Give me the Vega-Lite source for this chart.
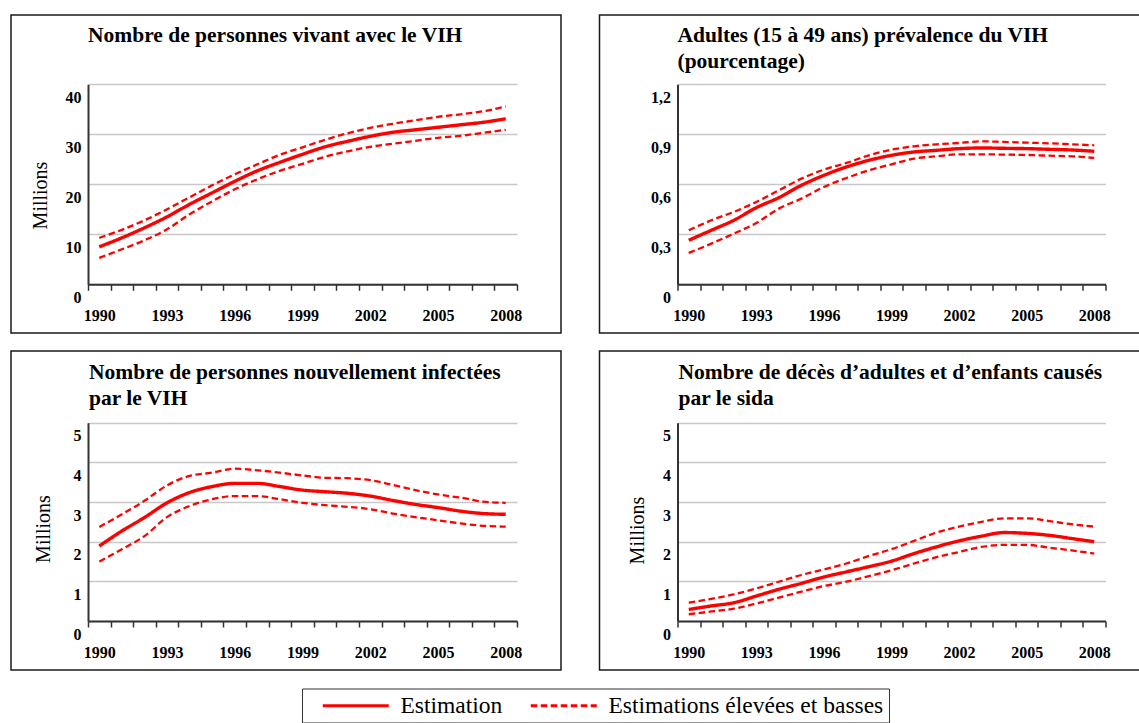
{
  "$schema": "https://vega.github.io/schema/vega-lite/v6.json",
  "padding": {"left": 10, "top": 14, "right": 0, "bottom": 0},
  "background": "white",
  "datasets": {
    "vivant": [
      {"annee":1990,"serie":"Estimation","type":"Estimation","valeur":7.5},
      {"annee":1991,"serie":"Estimation","type":"Estimation","valeur":9.3},
      {"annee":1992,"serie":"Estimation","type":"Estimation","valeur":11.3},
      {"annee":1993,"serie":"Estimation","type":"Estimation","valeur":13.5},
      {"annee":1994,"serie":"Estimation","type":"Estimation","valeur":16.0},
      {"annee":1995,"serie":"Estimation","type":"Estimation","valeur":18.3},
      {"annee":1996,"serie":"Estimation","type":"Estimation","valeur":20.6},
      {"annee":1997,"serie":"Estimation","type":"Estimation","valeur":22.7},
      {"annee":1998,"serie":"Estimation","type":"Estimation","valeur":24.4},
      {"annee":1999,"serie":"Estimation","type":"Estimation","valeur":26.0},
      {"annee":2000,"serie":"Estimation","type":"Estimation","valeur":27.5},
      {"annee":2001,"serie":"Estimation","type":"Estimation","valeur":28.6},
      {"annee":2002,"serie":"Estimation","type":"Estimation","valeur":29.6},
      {"annee":2003,"serie":"Estimation","type":"Estimation","valeur":30.4},
      {"annee":2004,"serie":"Estimation","type":"Estimation","valeur":30.9},
      {"annee":2005,"serie":"Estimation","type":"Estimation","valeur":31.4},
      {"annee":2006,"serie":"Estimation","type":"Estimation","valeur":31.9},
      {"annee":2007,"serie":"Estimation","type":"Estimation","valeur":32.4},
      {"annee":2008,"serie":"Estimation","type":"Estimation","valeur":33.1},
      {"annee":1990,"serie":"Haute","type":"Estimations élevées et basses","valeur":9.3},
      {"annee":1991,"serie":"Haute","type":"Estimations élevées et basses","valeur":10.9},
      {"annee":1992,"serie":"Haute","type":"Estimations élevées et basses","valeur":12.8},
      {"annee":1993,"serie":"Haute","type":"Estimations élevées et basses","valeur":15.0},
      {"annee":1994,"serie":"Haute","type":"Estimations élevées et basses","valeur":17.4},
      {"annee":1995,"serie":"Haute","type":"Estimations élevées et basses","valeur":19.8},
      {"annee":1996,"serie":"Haute","type":"Estimations élevées et basses","valeur":22.0},
      {"annee":1997,"serie":"Haute","type":"Estimations élevées et basses","valeur":24.0},
      {"annee":1998,"serie":"Haute","type":"Estimations élevées et basses","valeur":25.9},
      {"annee":1999,"serie":"Haute","type":"Estimations élevées et basses","valeur":27.4},
      {"annee":2000,"serie":"Haute","type":"Estimations élevées et basses","valeur":28.9},
      {"annee":2001,"serie":"Haute","type":"Estimations élevées et basses","valeur":30.2},
      {"annee":2002,"serie":"Haute","type":"Estimations élevées et basses","valeur":31.3},
      {"annee":2003,"serie":"Haute","type":"Estimations élevées et basses","valeur":32.1},
      {"annee":2004,"serie":"Haute","type":"Estimations élevées et basses","valeur":32.8},
      {"annee":2005,"serie":"Haute","type":"Estimations élevées et basses","valeur":33.5},
      {"annee":2006,"serie":"Haute","type":"Estimations élevées et basses","valeur":34.0},
      {"annee":2007,"serie":"Haute","type":"Estimations élevées et basses","valeur":34.6},
      {"annee":2008,"serie":"Haute","type":"Estimations élevées et basses","valeur":35.6},
      {"annee":1990,"serie":"Basse","type":"Estimations élevées et basses","valeur":5.3},
      {"annee":1991,"serie":"Basse","type":"Estimations élevées et basses","valeur":7.0},
      {"annee":1992,"serie":"Basse","type":"Estimations élevées et basses","valeur":8.8},
      {"annee":1993,"serie":"Basse","type":"Estimations élevées et basses","valeur":11.0},
      {"annee":1994,"serie":"Basse","type":"Estimations élevées et basses","valeur":14.0},
      {"annee":1995,"serie":"Basse","type":"Estimations élevées et basses","valeur":16.6},
      {"annee":1996,"serie":"Basse","type":"Estimations élevées et basses","valeur":19.0},
      {"annee":1997,"serie":"Basse","type":"Estimations élevées et basses","valeur":21.0},
      {"annee":1998,"serie":"Basse","type":"Estimations élevées et basses","valeur":22.7},
      {"annee":1999,"serie":"Basse","type":"Estimations élevées et basses","valeur":24.1},
      {"annee":2000,"serie":"Basse","type":"Estimations élevées et basses","valeur":25.5},
      {"annee":2001,"serie":"Basse","type":"Estimations élevées et basses","valeur":26.6},
      {"annee":2002,"serie":"Basse","type":"Estimations élevées et basses","valeur":27.5},
      {"annee":2003,"serie":"Basse","type":"Estimations élevées et basses","valeur":28.1},
      {"annee":2004,"serie":"Basse","type":"Estimations élevées et basses","valeur":28.7},
      {"annee":2005,"serie":"Basse","type":"Estimations élevées et basses","valeur":29.3},
      {"annee":2006,"serie":"Basse","type":"Estimations élevées et basses","valeur":29.7},
      {"annee":2007,"serie":"Basse","type":"Estimations élevées et basses","valeur":30.3},
      {"annee":2008,"serie":"Basse","type":"Estimations élevées et basses","valeur":30.9}
    ],
    "prevalence": [
      {"annee":1990,"serie":"Estimation","type":"Estimation","valeur":0.264},
      {"annee":1991,"serie":"Estimation","type":"Estimation","valeur":0.324},
      {"annee":1992,"serie":"Estimation","type":"Estimation","valeur":0.384},
      {"annee":1993,"serie":"Estimation","type":"Estimation","valeur":0.46},
      {"annee":1994,"serie":"Estimation","type":"Estimation","valeur":0.52},
      {"annee":1995,"serie":"Estimation","type":"Estimation","valeur":0.594},
      {"annee":1996,"serie":"Estimation","type":"Estimation","valeur":0.654},
      {"annee":1997,"serie":"Estimation","type":"Estimation","valeur":0.704},
      {"annee":1998,"serie":"Estimation","type":"Estimation","valeur":0.744},
      {"annee":1999,"serie":"Estimation","type":"Estimation","valeur":0.774},
      {"annee":2000,"serie":"Estimation","type":"Estimation","valeur":0.794},
      {"annee":2001,"serie":"Estimation","type":"Estimation","valeur":0.804},
      {"annee":2002,"serie":"Estimation","type":"Estimation","valeur":0.814},
      {"annee":2003,"serie":"Estimation","type":"Estimation","valeur":0.818},
      {"annee":2004,"serie":"Estimation","type":"Estimation","valeur":0.816},
      {"annee":2005,"serie":"Estimation","type":"Estimation","valeur":0.814},
      {"annee":2006,"serie":"Estimation","type":"Estimation","valeur":0.81},
      {"annee":2007,"serie":"Estimation","type":"Estimation","valeur":0.806},
      {"annee":2008,"serie":"Estimation","type":"Estimation","valeur":0.798},
      {"annee":1990,"serie":"Haute","type":"Estimations élevées et basses","valeur":0.324},
      {"annee":1991,"serie":"Haute","type":"Estimations élevées et basses","valeur":0.384},
      {"annee":1992,"serie":"Haute","type":"Estimations élevées et basses","valeur":0.434},
      {"annee":1993,"serie":"Haute","type":"Estimations élevées et basses","valeur":0.494},
      {"annee":1994,"serie":"Haute","type":"Estimations élevées et basses","valeur":0.564},
      {"annee":1995,"serie":"Haute","type":"Estimations élevées et basses","valeur":0.634},
      {"annee":1996,"serie":"Haute","type":"Estimations élevées et basses","valeur":0.688},
      {"annee":1997,"serie":"Haute","type":"Estimations élevées et basses","valeur":0.728},
      {"annee":1998,"serie":"Haute","type":"Estimations élevées et basses","valeur":0.774},
      {"annee":1999,"serie":"Haute","type":"Estimations élevées et basses","valeur":0.808},
      {"annee":2000,"serie":"Haute","type":"Estimations élevées et basses","valeur":0.828},
      {"annee":2001,"serie":"Haute","type":"Estimations élevées et basses","valeur":0.84},
      {"annee":2002,"serie":"Haute","type":"Estimations élevées et basses","valeur":0.848},
      {"annee":2003,"serie":"Haute","type":"Estimations élevées et basses","valeur":0.858},
      {"annee":2004,"serie":"Haute","type":"Estimations élevées et basses","valeur":0.854},
      {"annee":2005,"serie":"Haute","type":"Estimations élevées et basses","valeur":0.85},
      {"annee":2006,"serie":"Haute","type":"Estimations élevées et basses","valeur":0.846},
      {"annee":2007,"serie":"Haute","type":"Estimations élevées et basses","valeur":0.84},
      {"annee":2008,"serie":"Haute","type":"Estimations élevées et basses","valeur":0.834},
      {"annee":1990,"serie":"Basse","type":"Estimations élevées et basses","valeur":0.188},
      {"annee":1991,"serie":"Basse","type":"Estimations élevées et basses","valeur":0.244},
      {"annee":1992,"serie":"Basse","type":"Estimations élevées et basses","valeur":0.304},
      {"annee":1993,"serie":"Basse","type":"Estimations élevées et basses","valeur":0.368},
      {"annee":1994,"serie":"Basse","type":"Estimations élevées et basses","valeur":0.454},
      {"annee":1995,"serie":"Basse","type":"Estimations élevées et basses","valeur":0.514},
      {"annee":1996,"serie":"Basse","type":"Estimations élevées et basses","valeur":0.584},
      {"annee":1997,"serie":"Basse","type":"Estimations élevées et basses","valeur":0.638},
      {"annee":1998,"serie":"Basse","type":"Estimations élevées et basses","valeur":0.684},
      {"annee":1999,"serie":"Basse","type":"Estimations élevées et basses","valeur":0.72},
      {"annee":2000,"serie":"Basse","type":"Estimations élevées et basses","valeur":0.754},
      {"annee":2001,"serie":"Basse","type":"Estimations élevées et basses","valeur":0.768},
      {"annee":2002,"serie":"Basse","type":"Estimations élevées et basses","valeur":0.78},
      {"annee":2003,"serie":"Basse","type":"Estimations élevées et basses","valeur":0.78},
      {"annee":2004,"serie":"Basse","type":"Estimations élevées et basses","valeur":0.778},
      {"annee":2005,"serie":"Basse","type":"Estimations élevées et basses","valeur":0.776},
      {"annee":2006,"serie":"Basse","type":"Estimations élevées et basses","valeur":0.772},
      {"annee":2007,"serie":"Basse","type":"Estimations élevées et basses","valeur":0.768},
      {"annee":2008,"serie":"Basse","type":"Estimations élevées et basses","valeur":0.758}
    ],
    "infections": [
      {"annee":1990,"serie":"Estimation","type":"Estimation","valeur":1.89},
      {"annee":1991,"serie":"Estimation","type":"Estimation","valeur":2.27},
      {"annee":1992,"serie":"Estimation","type":"Estimation","valeur":2.61},
      {"annee":1993,"serie":"Estimation","type":"Estimation","valeur":2.98},
      {"annee":1994,"serie":"Estimation","type":"Estimation","valeur":3.24},
      {"annee":1995,"serie":"Estimation","type":"Estimation","valeur":3.39},
      {"annee":1996,"serie":"Estimation","type":"Estimation","valeur":3.47},
      {"annee":1997,"serie":"Estimation","type":"Estimation","valeur":3.47},
      {"annee":1998,"serie":"Estimation","type":"Estimation","valeur":3.39},
      {"annee":1999,"serie":"Estimation","type":"Estimation","valeur":3.30},
      {"annee":2000,"serie":"Estimation","type":"Estimation","valeur":3.26},
      {"annee":2001,"serie":"Estimation","type":"Estimation","valeur":3.22},
      {"annee":2002,"serie":"Estimation","type":"Estimation","valeur":3.15},
      {"annee":2003,"serie":"Estimation","type":"Estimation","valeur":3.04},
      {"annee":2004,"serie":"Estimation","type":"Estimation","valeur":2.94},
      {"annee":2005,"serie":"Estimation","type":"Estimation","valeur":2.86},
      {"annee":2006,"serie":"Estimation","type":"Estimation","valeur":2.77},
      {"annee":2007,"serie":"Estimation","type":"Estimation","valeur":2.71},
      {"annee":2008,"serie":"Estimation","type":"Estimation","valeur":2.69},
      {"annee":1990,"serie":"Haute","type":"Estimations élevées et basses","valeur":2.37},
      {"annee":1991,"serie":"Haute","type":"Estimations élevées et basses","valeur":2.69},
      {"annee":1992,"serie":"Haute","type":"Estimations élevées et basses","valeur":3.03},
      {"annee":1993,"serie":"Haute","type":"Estimations élevées et basses","valeur":3.42},
      {"annee":1994,"serie":"Haute","type":"Estimations élevées et basses","valeur":3.66},
      {"annee":1995,"serie":"Haute","type":"Estimations élevées et basses","valeur":3.74},
      {"annee":1996,"serie":"Haute","type":"Estimations élevées et basses","valeur":3.84},
      {"annee":1997,"serie":"Haute","type":"Estimations élevées et basses","valeur":3.80},
      {"annee":1998,"serie":"Haute","type":"Estimations élevées et basses","valeur":3.74},
      {"annee":1999,"serie":"Haute","type":"Estimations élevées et basses","valeur":3.67},
      {"annee":2000,"serie":"Haute","type":"Estimations élevées et basses","valeur":3.61},
      {"annee":2001,"serie":"Haute","type":"Estimations élevées et basses","valeur":3.60},
      {"annee":2002,"serie":"Haute","type":"Estimations élevées et basses","valeur":3.55},
      {"annee":2003,"serie":"Haute","type":"Estimations élevées et basses","valeur":3.43},
      {"annee":2004,"serie":"Haute","type":"Estimations élevées et basses","valeur":3.30},
      {"annee":2005,"serie":"Haute","type":"Estimations élevées et basses","valeur":3.19},
      {"annee":2006,"serie":"Haute","type":"Estimations élevées et basses","valeur":3.11},
      {"annee":2007,"serie":"Haute","type":"Estimations élevées et basses","valeur":3.01},
      {"annee":2008,"serie":"Haute","type":"Estimations élevées et basses","valeur":2.98},
      {"annee":1990,"serie":"Basse","type":"Estimations élevées et basses","valeur":1.50},
      {"annee":1991,"serie":"Basse","type":"Estimations élevées et basses","valeur":1.81},
      {"annee":1992,"serie":"Basse","type":"Estimations élevées et basses","valeur":2.14},
      {"annee":1993,"serie":"Basse","type":"Estimations élevées et basses","valeur":2.62},
      {"annee":1994,"serie":"Basse","type":"Estimations élevées et basses","valeur":2.90},
      {"annee":1995,"serie":"Basse","type":"Estimations élevées et basses","valeur":3.07},
      {"annee":1996,"serie":"Basse","type":"Estimations élevées et basses","valeur":3.15},
      {"annee":1997,"serie":"Basse","type":"Estimations élevées et basses","valeur":3.15},
      {"annee":1998,"serie":"Basse","type":"Estimations élevées et basses","valeur":3.07},
      {"annee":1999,"serie":"Basse","type":"Estimations élevées et basses","valeur":2.98},
      {"annee":2000,"serie":"Basse","type":"Estimations élevées et basses","valeur":2.92},
      {"annee":2001,"serie":"Basse","type":"Estimations élevées et basses","valeur":2.88},
      {"annee":2002,"serie":"Basse","type":"Estimations élevées et basses","valeur":2.82},
      {"annee":2003,"serie":"Basse","type":"Estimations élevées et basses","valeur":2.71},
      {"annee":2004,"serie":"Basse","type":"Estimations élevées et basses","valeur":2.62},
      {"annee":2005,"serie":"Basse","type":"Estimations élevées et basses","valeur":2.54},
      {"annee":2006,"serie":"Basse","type":"Estimations élevées et basses","valeur":2.46},
      {"annee":2007,"serie":"Basse","type":"Estimations élevées et basses","valeur":2.40},
      {"annee":2008,"serie":"Basse","type":"Estimations élevées et basses","valeur":2.38}
    ],
    "deces": [
      {"annee":1990,"serie":"Estimation","type":"Estimation","valeur":0.29},
      {"annee":1991,"serie":"Estimation","type":"Estimation","valeur":0.38},
      {"annee":1992,"serie":"Estimation","type":"Estimation","valeur":0.46},
      {"annee":1993,"serie":"Estimation","type":"Estimation","valeur":0.63},
      {"annee":1994,"serie":"Estimation","type":"Estimation","valeur":0.80},
      {"annee":1995,"serie":"Estimation","type":"Estimation","valeur":0.95},
      {"annee":1996,"serie":"Estimation","type":"Estimation","valeur":1.11},
      {"annee":1997,"serie":"Estimation","type":"Estimation","valeur":1.24},
      {"annee":1998,"serie":"Estimation","type":"Estimation","valeur":1.37},
      {"annee":1999,"serie":"Estimation","type":"Estimation","valeur":1.51},
      {"annee":2000,"serie":"Estimation","type":"Estimation","valeur":1.70},
      {"annee":2001,"serie":"Estimation","type":"Estimation","valeur":1.87},
      {"annee":2002,"serie":"Estimation","type":"Estimation","valeur":2.02},
      {"annee":2003,"serie":"Estimation","type":"Estimation","valeur":2.14},
      {"annee":2004,"serie":"Estimation","type":"Estimation","valeur":2.23},
      {"annee":2005,"serie":"Estimation","type":"Estimation","valeur":2.21},
      {"annee":2006,"serie":"Estimation","type":"Estimation","valeur":2.16},
      {"annee":2007,"serie":"Estimation","type":"Estimation","valeur":2.08},
      {"annee":2008,"serie":"Estimation","type":"Estimation","valeur":2.00},
      {"annee":1990,"serie":"Haute","type":"Estimations élevées et basses","valeur":0.46},
      {"annee":1991,"serie":"Haute","type":"Estimations élevées et basses","valeur":0.56},
      {"annee":1992,"serie":"Haute","type":"Estimations élevées et basses","valeur":0.67},
      {"annee":1993,"serie":"Haute","type":"Estimations élevées et basses","valeur":0.82},
      {"annee":1994,"serie":"Haute","type":"Estimations élevées et basses","valeur":0.99},
      {"annee":1995,"serie":"Haute","type":"Estimations élevées et basses","valeur":1.16},
      {"annee":1996,"serie":"Haute","type":"Estimations élevées et basses","valeur":1.30},
      {"annee":1997,"serie":"Haute","type":"Estimations élevées et basses","valeur":1.45},
      {"annee":1998,"serie":"Haute","type":"Estimations élevées et basses","valeur":1.64},
      {"annee":1999,"serie":"Haute","type":"Estimations élevées et basses","valeur":1.81},
      {"annee":2000,"serie":"Haute","type":"Estimations élevées et basses","valeur":2.02},
      {"annee":2001,"serie":"Haute","type":"Estimations élevées et basses","valeur":2.23},
      {"annee":2002,"serie":"Haute","type":"Estimations élevées et basses","valeur":2.38},
      {"annee":2003,"serie":"Haute","type":"Estimations élevées et basses","valeur":2.50},
      {"annee":2004,"serie":"Haute","type":"Estimations élevées et basses","valeur":2.59},
      {"annee":2005,"serie":"Haute","type":"Estimations élevées et basses","valeur":2.59},
      {"annee":2006,"serie":"Haute","type":"Estimations élevées et basses","valeur":2.52},
      {"annee":2007,"serie":"Haute","type":"Estimations élevées et basses","valeur":2.44},
      {"annee":2008,"serie":"Haute","type":"Estimations élevées et basses","valeur":2.38},
      {"annee":1990,"serie":"Basse","type":"Estimations élevées et basses","valeur":0.17},
      {"annee":1991,"serie":"Basse","type":"Estimations élevées et basses","valeur":0.24},
      {"annee":1992,"serie":"Basse","type":"Estimations élevées et basses","valeur":0.31},
      {"annee":1993,"serie":"Basse","type":"Estimations élevées et basses","valeur":0.44},
      {"annee":1994,"serie":"Basse","type":"Estimations élevées et basses","valeur":0.59},
      {"annee":1995,"serie":"Basse","type":"Estimations élevées et basses","valeur":0.74},
      {"annee":1996,"serie":"Basse","type":"Estimations élevées et basses","valeur":0.88},
      {"annee":1997,"serie":"Basse","type":"Estimations élevées et basses","valeur":0.99},
      {"annee":1998,"serie":"Basse","type":"Estimations élevées et basses","valeur":1.13},
      {"annee":1999,"serie":"Basse","type":"Estimations élevées et basses","valeur":1.28},
      {"annee":2000,"serie":"Basse","type":"Estimations élevées et basses","valeur":1.45},
      {"annee":2001,"serie":"Basse","type":"Estimations élevées et basses","valeur":1.61},
      {"annee":2002,"serie":"Basse","type":"Estimations élevées et basses","valeur":1.74},
      {"annee":2003,"serie":"Basse","type":"Estimations élevées et basses","valeur":1.87},
      {"annee":2004,"serie":"Basse","type":"Estimations élevées et basses","valeur":1.92},
      {"annee":2005,"serie":"Basse","type":"Estimations élevées et basses","valeur":1.92},
      {"annee":2006,"serie":"Basse","type":"Estimations élevées et basses","valeur":1.85},
      {"annee":2007,"serie":"Basse","type":"Estimations élevées et basses","valeur":1.78},
      {"annee":2008,"serie":"Basse","type":"Estimations élevées et basses","valeur":1.70}
    ]
  },
  "vconcat": [
    {
      "hconcat": [
        {
          "width": 550, "height": 318,
          "title": {"text": "Nombre de personnes vivant avec le VIH", "dx": 77, "offset": -31},
          "data": {"name": "vivant"},
          "encoding": {
            "x": {"field": "annee", "type": "ordinal", "bandPosition": 0.5,
              "scale": {"type": "band", "range": [77, 506], "paddingInner": 0, "paddingOuter": 0},
              "axis": {"title": null, "offset": -48.7, "tickBand": "extent", "labelExpr": "datum.value % 3 == 1 ? datum.label : ''", "labelOverlap": false}},
            "y": {"field": "valeur", "type": "quantitative",
              "scale": {"domain": [0, 40], "range": [269.3, 69.3], "nice": false},
              "axis": {"values": [0, 10, 20, 30, 40], "offset": -77, "title": "Millions", "titleX": -42, "titleY": 180, "titleAngle": -90, "titleAlign": "center", "titleBaseline": "alphabetic"}},
            "strokeDash": {"field": "type", "type": "nominal",
              "scale": {"domain": ["Estimation", "Estimations élevées et basses"], "range": [[1, 0], [6.5, 3.5]]}},
            "detail": {"field": "serie", "type": "nominal"}
          },
          "layer": [
            {"transform": [{"filter": "datum.serie != 'Estimation'"}], "mark": {"type": "line", "strokeWidth": 2.3}},
            {"transform": [{"filter": "datum.serie == 'Estimation'"}], "mark": {"type": "line", "strokeWidth": 3.4}}
          ]
        },
        {
          "width": 550, "height": 318,
          "title": {"text": ["Adultes (15 à 49 ans) prévalence du VIH", "(pourcentage)"], "dx": 78, "offset": -57},
          "data": {"name": "prevalence"},
          "encoding": {
            "x": {"field": "annee", "type": "ordinal", "bandPosition": 0.5,
              "scale": {"type": "band", "range": [78, 506], "paddingInner": 0, "paddingOuter": 0},
              "axis": {"title": null, "offset": -48.7, "tickBand": "extent", "labelExpr": "datum.value % 3 == 1 ? datum.label : ''", "labelOverlap": false}},
            "y": {"field": "valeur", "type": "quantitative",
              "scale": {"domain": [0, 1.2], "range": [269.3, 69.3], "nice": false},
              "axis": {"values": [0, 0.3, 0.6, 0.9, 1.2], "offset": -78, "title": null, "labelExpr": "datum.value == 0 ? '0' : replace(format(datum.value, '.1f'), '.', ',')"}},
            "strokeDash": {"field": "type", "type": "nominal",
              "scale": {"domain": ["Estimation", "Estimations élevées et basses"], "range": [[1, 0], [6.5, 3.5]]}},
            "detail": {"field": "serie", "type": "nominal"}
          },
          "layer": [
            {"transform": [{"filter": "datum.serie != 'Estimation'"}], "mark": {"type": "line", "strokeWidth": 2.3}},
            {"transform": [{"filter": "datum.serie == 'Estimation'"}], "mark": {"type": "line", "strokeWidth": 3.4}}
          ]
        }
      ],
      "spacing": 36.5
    },
    {
      "hconcat": [
        {
          "width": 550, "height": 319,
          "title": {"text": ["Nombre de personnes nouvellement infectées", "par le VIH"], "dx": 78, "offset": -58},
          "data": {"name": "infections"},
          "encoding": {
            "x": {"field": "annee", "type": "ordinal", "bandPosition": 0.5,
              "scale": {"type": "band", "range": [77, 506], "paddingInner": 0, "paddingOuter": 0},
              "axis": {"title": null, "offset": -49, "tickBand": "extent", "labelExpr": "datum.value % 3 == 1 ? datum.label : ''", "labelOverlap": false}},
            "y": {"field": "valeur", "type": "quantitative",
              "scale": {"domain": [0, 5], "range": [270, 71.7], "nice": false},
              "axis": {"values": [0, 1, 2, 3, 4, 5], "offset": -77, "title": "Millions", "titleX": -39, "titleY": 177.5, "titleAngle": -90, "titleAlign": "center", "titleBaseline": "alphabetic"}},
            "strokeDash": {"field": "type", "type": "nominal",
              "scale": {"domain": ["Estimation", "Estimations élevées et basses"], "range": [[1, 0], [6.5, 3.5]]}},
            "detail": {"field": "serie", "type": "nominal"}
          },
          "layer": [
            {"transform": [{"filter": "datum.serie != 'Estimation'"}], "mark": {"type": "line", "strokeWidth": 2.3}},
            {"transform": [{"filter": "datum.serie == 'Estimation'"}], "mark": {"type": "line", "strokeWidth": 3.4}}
          ]
        },
        {
          "width": 550, "height": 319,
          "title": {"text": ["Nombre de décès d’adultes et d’enfants causés", "par le sida"], "dx": 79, "offset": -58},
          "data": {"name": "deces"},
          "encoding": {
            "x": {"field": "annee", "type": "ordinal", "bandPosition": 0.5,
              "scale": {"type": "band", "range": [78, 506], "paddingInner": 0, "paddingOuter": 0},
              "axis": {"title": null, "offset": -49, "tickBand": "extent", "labelExpr": "datum.value % 3 == 1 ? datum.label : ''", "labelOverlap": false}},
            "y": {"field": "valeur", "type": "quantitative",
              "scale": {"domain": [0, 5], "range": [270, 71.7], "nice": false},
              "axis": {"values": [0, 1, 2, 3, 4, 5], "offset": -78, "title": "Millions", "titleX": -34, "titleY": 179, "titleAngle": -90, "titleAlign": "center", "titleBaseline": "alphabetic"}},
            "strokeDash": {"field": "type", "type": "nominal",
              "scale": {"domain": ["Estimation", "Estimations élevées et basses"], "range": [[1, 0], [6.5, 3.5]]}},
            "detail": {"field": "serie", "type": "nominal"}
          },
          "layer": [
            {"transform": [{"filter": "datum.serie != 'Estimation'"}], "mark": {"type": "line", "strokeWidth": 2.3}},
            {"transform": [{"filter": "datum.serie == 'Estimation'"}], "mark": {"type": "line", "strokeWidth": 3.4}}
          ]
        }
      ],
      "spacing": 36.5
    }
  ],
  "spacing": 16,
  "resolve": {"scale": {"strokeDash": "shared"}, "legend": {"strokeDash": "shared"}},
  "config": {
    "font": "Liberation Serif",
    "view": {"stroke": "#1a1a1a", "strokeWidth": 1.5},
    "line": {"color": "#ff0000", "interpolate": "monotone"},
    "title": {"font": "Liberation Serif", "fontSize": 21.5, "fontWeight": "bold", "color": "#000", "anchor": "start", "frame": "group", "baseline": "top", "lineHeight": 25.5},
    "axis": {"labelFont": "Liberation Serif", "labelFontWeight": "bold", "labelFontSize": 16, "labelColor": "#000", "domainColor": "#333", "domainWidth": 2, "tickColor": "#333", "tickWidth": 1.5, "gridColor": "#c8c8c8", "gridWidth": 1.5, "titleFont": "Liberation Serif", "titleFontWeight": "normal", "titleFontSize": 20, "titleColor": "#000"},
    "axisY": {"ticks": false, "labelPadding": 7, "labelOffset": 13, "grid": true},
    "axisX": {"grid": false, "tickSize": 6, "labelPadding": 17.5, "labelAngle": 0},
    "legend": {"orient": "none", "legendX": 291, "legendY": 673.5, "direction": "horizontal", "title": null, "strokeColor": "#333", "padding": 5, "symbolType": "M-3.3,0H3.3", "symbolSize": 400, "symbolStrokeWidth": 3, "symbolStrokeColor": "#ff0000", "symbolFillColor": "transparent", "symbolOffset": 37, "labelFont": "Liberation Serif", "labelFontSize": 23.5, "labelFontWeight": "normal", "labelColor": "#000", "labelOffset": 33, "columnPadding": 12, "labelLimit": 400}
  }
}
